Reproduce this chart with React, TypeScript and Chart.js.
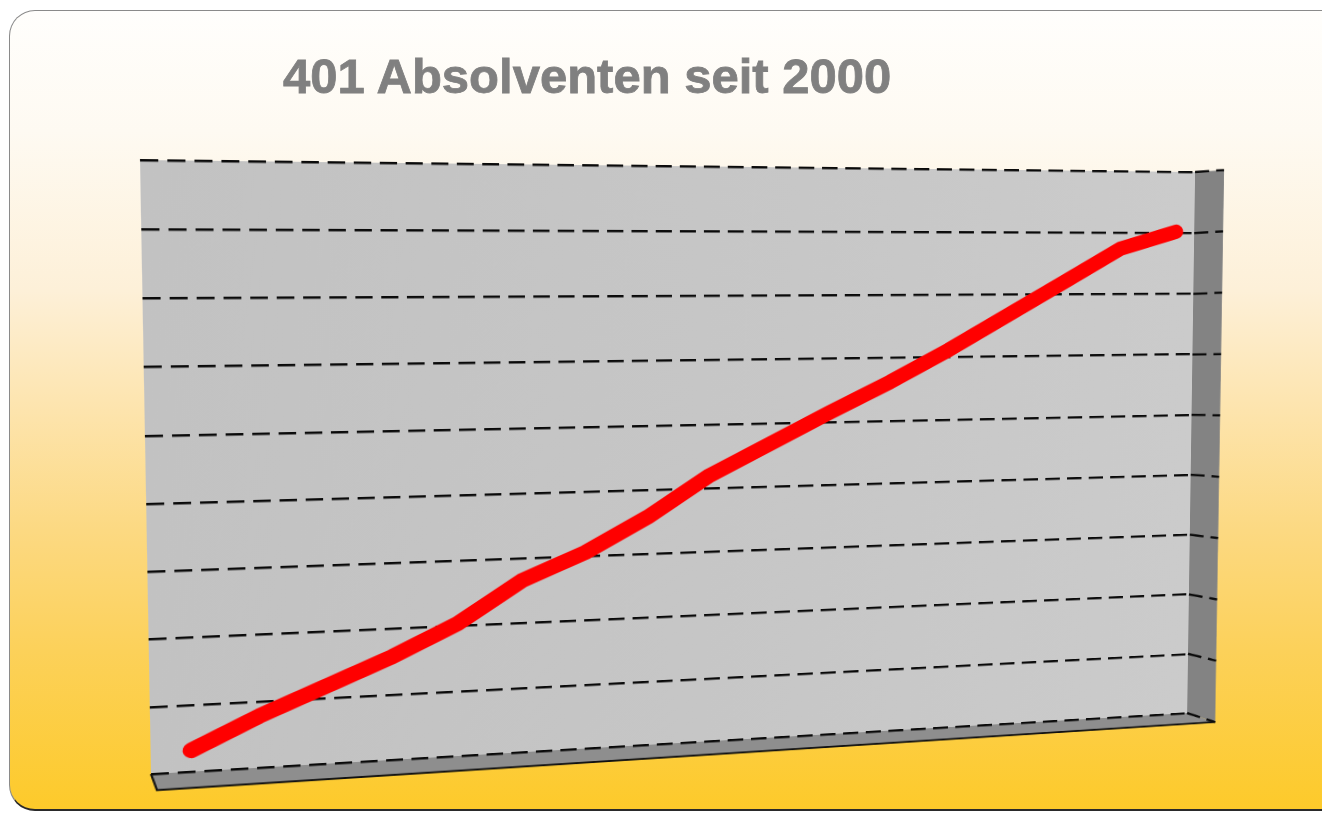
import React, { useEffect, useRef } from 'react';
import { Chart, registerables } from 'chart.js';

Chart.register(...registerables);

// ---------- data ----------
const TITLE = '401 Absolventen seit 2000';
const YEARS = [2000, 2001, 2002, 2003, 2004, 2005, 2006, 2007, 2008, 2009, 2010, 2011, 2012, 2013, 2014, 2015, 2016];
const GRADUATES = [16, 39, 59, 79, 102, 133, 153, 179, 210, 234, 258, 281, 306, 333, 360, 387, 401];
const Y_MIN = 0;
const Y_MAX = 450;
const Y_STEP = 50;
const X_MIN = 1999.41;
const X_MAX = 2016.33;

// ---------- look ----------
const SIDE_COLOR = '#838383';
const FLOOR_COLOR = '#8e8e8e';
const LINE_COLOR = '#ff0000';
const GRID_COLOR = '#0a0a0a';

// screen geometry of the pseudo-3D box (back wall corners TL, TR, BR, BL)
const WALL_QUAD: number[][] = [[140, 160], [1195, 172], [1187, 713], [151, 774]];
const SIDE_FRONT: number[][] = [[1224, 170], [1215, 722]];
const FLOOR_FRONT: number[][] = [[157, 790], [1215, 722]];

type Area = { left: number; top: number; right: number; bottom: number };

function squareToQuad(q: number[][]): number[] {
  const [[x0, y0], [x1, y1], [x2, y2], [x3, y3]] = q;
  const dx1 = x1 - x2, dx2 = x3 - x2, dy1 = y1 - y2, dy2 = y3 - y2;
  const sx = x0 - x1 + x2 - x3, sy = y0 - y1 + y2 - y3;
  const den = dx1 * dy2 - dx2 * dy1;
  const g = (sx * dy2 - dx2 * sy) / den;
  const h = (dx1 * sy - sx * dy1) / den;
  return [x1 - x0 + g * x1, x3 - x0 + h * x3, x0, y1 - y0 + g * y1, y3 - y0 + h * y3, y0, g, h, 1];
}

function rectToQuad(a: Area, q: number[][]): number[] {
  const Q = squareToQuad(q);
  const w = a.right - a.left, h = a.bottom - a.top;
  const M: number[] = [];
  for (let r = 0; r < 3; r++) {
    const p = Q[r * 3], s = Q[r * 3 + 1], c = Q[r * 3 + 2];
    M.push(p / w, s / h, c - (p * a.left) / w - (s * a.top) / h);
  }
  return M;
}

function invert3(m: number[]): number[] {
  const [a, b, c, d, e, f, g, h, i] = m;
  const A = e * i - f * h, B = -(d * i - f * g), C = d * h - e * g;
  const det = a * A + b * B + c * C;
  return [
    A / det, -(b * i - c * h) / det, (b * f - c * e) / det,
    B / det, (a * i - c * g) / det, -(a * f - c * d) / det,
    C / det, -(a * h - b * g) / det, (a * e - b * d) / det,
  ];
}

function apply(m: number[], x: number, y: number): number[] {
  const w = m[6] * x + m[7] * y + m[8];
  return [(m[0] * x + m[1] * y + m[2]) / w, (m[3] * x + m[4] * y + m[5]) / w];
}

const boxPlugin = {
  id: 'box3d',
  beforeDraw(chart: any) {
    const { ctx, chartArea: a } = chart;
    const inv = invert3(rectToQuad(a, WALL_QUAD));
    const sTop = apply(inv, SIDE_FRONT[0][0], SIDE_FRONT[0][1]);
    const sBot = apply(inv, SIDE_FRONT[1][0], SIDE_FRONT[1][1]);
    const fL = apply(inv, FLOOR_FRONT[0][0], FLOOR_FRONT[0][1]);
    const fR = apply(inv, FLOOR_FRONT[1][0], FLOOR_FRONT[1][1]);
    ctx.save();
    const grad = ctx.createLinearGradient(a.left, 0, a.right, 0);
    grad.addColorStop(0, '#c2c2c2');
    grad.addColorStop(0.5, '#c6c6c6');
    grad.addColorStop(1, '#cbcbcb');
    ctx.fillStyle = grad;
    ctx.fillRect(a.left, a.top, a.right - a.left, a.bottom - a.top);
    // side wall
    ctx.fillStyle = SIDE_COLOR;
    ctx.beginPath();
    ctx.moveTo(a.right, a.top);
    ctx.lineTo(sTop[0], sTop[1]);
    ctx.lineTo(sBot[0], sBot[1]);
    ctx.lineTo(a.right, a.bottom);
    ctx.closePath();
    ctx.fill();
    // floor
    ctx.fillStyle = FLOOR_COLOR;
    ctx.beginPath();
    ctx.moveTo(a.left, a.bottom);
    ctx.lineTo(a.right, a.bottom);
    ctx.lineTo(fR[0], fR[1]);
    ctx.lineTo(fL[0], fL[1]);
    ctx.closePath();
    ctx.fill();
    ctx.strokeStyle = '#111';
    ctx.lineWidth = 2;
    ctx.beginPath();
    ctx.moveTo(a.left, a.bottom);
    ctx.lineTo(fL[0], fL[1]);
    ctx.lineTo(fR[0], fR[1]);
    ctx.stroke();
    ctx.restore();
  },
  beforeDatasetsDraw(chart: any) {
    const { ctx, chartArea: a } = chart;
    const inv = invert3(rectToQuad(a, WALL_QUAD));
    const ys = chart.scales.y;
    ctx.save();
    ctx.strokeStyle = GRID_COLOR;
    ctx.lineWidth = 2.5;
    ctx.setLineDash([16, 8]);
    ys.ticks.forEach((t: any) => {
      const yp = ys.getPixelForValue(t.value);
      const f = (t.value - Y_MIN) / (Y_MAX - Y_MIN);
      const sx = SIDE_FRONT[1][0] + (SIDE_FRONT[0][0] - SIDE_FRONT[1][0]) * f;
      const sy = SIDE_FRONT[1][1] + (SIDE_FRONT[0][1] - SIDE_FRONT[1][1]) * f;
      const p = apply(inv, sx, sy);
      ctx.beginPath();
      ctx.moveTo(a.right, yp);
      ctx.lineTo(p[0], p[1]);
      ctx.stroke();
    });
    ctx.restore();
  },
};

export default function App() {
  const canvasRef = useRef<HTMLCanvasElement | null>(null);

  useEffect(() => {
    const canvas = canvasRef.current;
    if (!canvas) return;
    const chart = new Chart(canvas, {
      type: 'line',
      data: {
        datasets: [
          {
            label: 'Absolventen',
            data: YEARS.map((yr, i) => ({ x: yr, y: GRADUATES[i] })),
            borderColor: LINE_COLOR,
            backgroundColor: LINE_COLOR,
            borderWidth: 16,
            borderCapStyle: 'round',
            borderJoinStyle: 'round',
            pointRadius: 0,
            tension: 0,
            fill: false,
          },
        ],
      },
      options: {
        responsive: false,
        maintainAspectRatio: false,
        animation: false,
        layout: { padding: { left: 140, top: 160, right: 131, bottom: 39 } },
        plugins: { legend: { display: false }, tooltip: { enabled: false }, title: { display: false } },
        scales: {
          x: { type: 'linear', min: X_MIN, max: X_MAX, display: false },
          y: {
            min: Y_MIN,
            max: Y_MAX,
            ticks: { stepSize: Y_STEP, display: false },
            grid: { color: GRID_COLOR, lineWidth: 2.5, drawTicks: false },
            border: { display: false, dash: [16, 8] },
          },
        },
      } as any,
      plugins: [boxPlugin],
    });
    const M = rectToQuad(chart.chartArea as Area, WALL_QUAD);
    canvas.style.transformOrigin = '0 0';
    canvas.style.transform = `matrix3d(${M[0]},${M[3]},0,${M[6]},${M[1]},${M[4]},0,${M[7]},0,0,1,0,${M[2]},${M[5]},0,${M[8]})`;
    return () => chart.destroy();
  }, []);

  return (
    <div style={{ position: 'fixed', left: 0, top: 0, width: 1322, height: 813, background: '#ffffff', overflow: 'hidden' }}>
      <div
        style={{
          position: 'absolute',
          left: 9,
          top: 10,
          width: 1340,
          height: 798,
          borderRadius: 26,
          border: '1px solid #8a8a8a',
          borderBottom: '2px solid #2a2a2a',
          background:
            'linear-gradient(to bottom, #fffefc 0%, #fefaf2 15%, #fdf0d8 35%, #fde4ad 50%, #fcd982 65%, #fcd15a 80%, #fdca2a 100%)',
        }}
      />
      <div
        style={{
          position: 'absolute',
          left: 283,
          top: 52,
          font: 'bold 49px "Liberation Sans", Arial, sans-serif',
          lineHeight: '49px',
          color: '#808080',
          WebkitTextStroke: '0.8px #808080',
          whiteSpace: 'nowrap',
        }}
      >
        {TITLE}
      </div>
      <canvas ref={canvasRef} width={1322} height={813} style={{ position: 'absolute', left: 0, top: 0, width: 1322, height: 813 }} />
    </div>
  );
}
